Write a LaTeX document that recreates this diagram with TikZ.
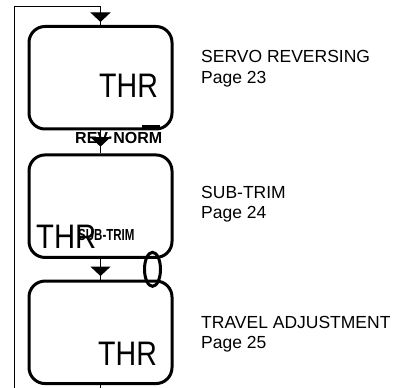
\documentclass[tikz,border=0pt]{standalone}
\usepackage{fontspec}
\setmainfont{Liberation Sans}
\usetikzlibrary{arrows.meta, positioning, calc, decorations.markings, shapes.geometric}

\begin{document}
\begin{tikzpicture}[
		x=1pt, y=-1pt,
		screen/.style={draw, line width=3pt, rounded corners=16pt, minimum width=143pt, minimum height=102.5pt, inner sep=0pt},
		disp/.style={inner sep=0pt, anchor=base west, font=\fontsize{34}{34}\selectfont},
		key/.style={inner sep=0pt, anchor=base west, font=\bfseries\fontsize{16}{16}\selectfont},
		info/.style={inner sep=0pt, anchor=north west, align=left, font=\fontsize{17.5}{20.5}\selectfont},
		wire/.style={line width=0.9pt},
		tipat/.style={postaction={decorate}, decoration={markings,
				mark=at position #1 with {\arrow{Triangle[width=20pt, length=9.5pt]}}}}
		]
		\useasboundingbox (0,0) rectangle (403,387);
		
		% === SCREENS ===
		
		\node [screen] (box1) at (100.5, 77.75) {};
		\node [screen] (box2) at (100.5, 206.2) {};
		\node [screen] (box3) at (100.5, 332.3) {};
		
		% display texts
		\node [disp] (thr1) at (99, 97.5) {\scalebox{.84}[1]{THR}};
		\node [disp] (thr2) at (36, 248.5) {\scalebox{.86}[1]{THR}};
		\node [disp] (thr3) at (98, 365.5) {\scalebox{.84}[1]{THR}};
		
		% key marks
		\fill (142,125) rectangle (160,129.5);
		\node [key] (revnorm) at (75, 144) {REV·NORM};
		\node [key] (subtrim) at (78, 240) {\scalebox{.72}[1]{SUB-TRIM}};
		\node [draw, ellipse, line width=3pt, minimum width=16pt, minimum height=34pt, inner sep=0pt] (link) at (152.5, 269.3) {};
		
		% === PAGE NOTES ===
		
		\node [info] (note1) at (201, 50.5) {SERVO REVERSING\\Page 23};
		\node [info] (note2) at (201, 186) {SUB-TRIM\\Page 24};
		\node [info] (note3) at (201, 316) {TRAVEL ADJUSTMENT\\Page 25};
		
		% === FLOW ===
		
		\coordinate (loopSW) at (14.5, 400);
		\coordinate (loopNW) at (14.5, 6.5);
		
		\draw [wire, tipat=-6.8pt] (box1.south) -- (box2.north);
		\draw [wire, tipat=-3.5pt] (box2.south) -- (box3.north);
		\draw [wire, tipat=-3pt] (box3.south) |- (loopSW) -- (loopNW) -| (box1.north);
		
	\end{tikzpicture}
\end{document}
